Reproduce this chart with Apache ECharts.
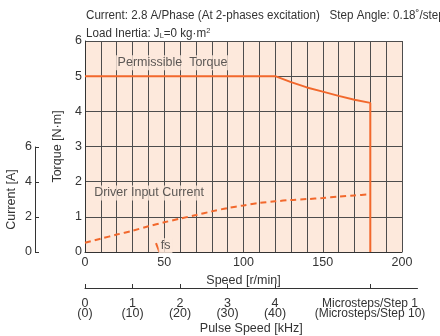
<!DOCTYPE html>
<html><head><meta charset="utf-8">
<script src="https://cdn.jsdelivr.net/npm/echarts@6/dist/echarts.min.js"></script>
<style>html,body{margin:0;padding:0;background:#fff}#c{width:440px;height:336px}</style>
</head><body><div id="c"></div>
<script>
// ---- data ----
const torqueSpeed  = [0, 120, 130, 140, 150, 160, 170, 180, 180];
const torqueValues = [5, 5, 4.83, 4.68, 4.56, 4.44, 4.33, 4.24, 0];
const currentSpeed  = [0, 10, 20, 30, 40, 50, 60, 70, 80, 90, 100, 110, 120, 130, 140, 150, 160, 170, 180];
const currentValues = [0.53, 0.76, 0.99, 1.21, 1.46, 1.69, 1.90, 2.10, 2.31, 2.50, 2.65, 2.79, 2.88, 2.96, 3.01, 3.07, 3.15, 3.22, 3.28];
const fsSpeed  = [44.8, 46.9];
const fsTorque = [0.25, 0];
const speedLabels  = [0, 50, 100, 150, 200];
const torqueTicks  = [0, 1, 2, 3, 4, 5, 6];
const currentTicks = [0, 2, 4, 6];
const pulseTicks   = [0, 1, 2, 3, 4, 6];
const pulseLabels  = ['0\n(0)', '1\n(10)', '2\n(20)', '3\n(30)', '4\n(40)', '{m|Microsteps/Step 1}\n{m|(Microsteps/Step 10)}'];
const annotations  = [
  {text: 'Permissible  Torque', speed: 55.2, torque: 5.38},
  {text: 'Driver Input Current', speed: 40.4, torque: 1.68},
  {text: 'fs', speed: 50.8, torque: 0.18}
];

const FONT = "'Liberation Sans',Arial,sans-serif";
const TXT = '#333';
const ORANGE = '#f2682c';
const BG = '#fde9dc';
const GRIDC = '#4d4d4d';

const chart = echarts.init(document.getElementById('c'), null, {renderer: 'canvas'});
chart.setOption({
  animation: false,
  textStyle: {fontFamily: FONT, color: TXT},
  graphic: [
    {type: 'text', x: 86, y: 9, scaleX: 0.93, style: {text: 'Current: 2.8 A/Phase (At 2-phases excitation)   Step Angle: 0.18˚/step', font: '12.5px ' + FONT, fill: TXT}},
    {type: 'text', x: 86, y: 27, scaleX: 0.93, style: {
      text: '{a|Load Inertia: J}{s|L}{a|=0 kg·m}{p|2}',
      rich: {
        a: {font: '12.5px ' + FONT, fill: TXT, verticalAlign: 'bottom'},
        s: {font: '8px ' + FONT, fill: TXT, verticalAlign: 'bottom'},
        p: {font: '8px ' + FONT, fill: TXT, verticalAlign: 'top'}
      }
    }}
  ],
  grid: [
    {left: 85, top: 41, width: 317, height: 211, show: true, backgroundColor: BG, borderWidth: 0, containLabel: false},
    {left: 35, top: 147, width: 1, height: 105, containLabel: false},
    {left: 85, top: 280, width: 332.5, height: 8, containLabel: false}
  ],
  xAxis: [
    {gridIndex: 0, type: 'value', min: 0, max: 200, interval: 10,
     axisLine: {show: true, lineStyle: {color: '#333', width: 1}},
     axisTick: {show: false},
     splitLine: {show: true, lineStyle: {color: GRIDC, width: 1}},
     axisLabel: {fontSize: 12.5, color: TXT, margin: 4, fontFamily: FONT,
       formatter: v => speedLabels.includes(v) ? String(v) : ''},
     name: 'Speed [r/min]', nameLocation: 'middle', nameGap: 17,
     nameTextStyle: {fontSize: 12.5, color: TXT, fontFamily: FONT}},
    {gridIndex: 1, type: 'value', show: false, min: 0, max: 1},
    {gridIndex: 2, type: 'value', min: 0, max: 7, position: 'bottom',
     axisLine: {show: true, lineStyle: {color: '#333', width: 1}},
     axisTick: {show: true, inside: true, length: 4, customValues: pulseTicks, lineStyle: {color: '#333'}},
     splitLine: {show: false},
     axisLabel: {customValues: pulseTicks, fontSize: 12.5, lineHeight: 10, color: TXT, margin: 11, fontFamily: FONT,
       rich: {m: {fontSize: 12, lineHeight: 10, color: TXT, fontFamily: FONT}},
       formatter: v => pulseLabels[pulseTicks.indexOf(v)] || ''},
     name: 'Pulse Speed [kHz]', nameLocation: 'middle', nameGap: 34,
     nameTextStyle: {fontSize: 12.5, color: TXT, fontFamily: FONT}}
  ],
  yAxis: [
    {gridIndex: 0, type: 'value', min: 0, max: 6, interval: 1,
     axisLine: {show: true, lineStyle: {color: '#333', width: 1}},
     axisTick: {show: false},
     splitLine: {show: true, lineStyle: {color: GRIDC, width: 1}},
     axisLabel: {fontSize: 12.5, color: TXT, margin: 3, fontFamily: FONT,
       formatter: v => torqueTicks.includes(v) ? String(v) : ''},
     name: 'Torque [N·m]', nameLocation: 'middle', nameGap: 17,
     nameTextStyle: {fontSize: 12.5, color: TXT, fontFamily: FONT}},
    {gridIndex: 0, type: 'value', min: 0, max: 12, show: false},
    {gridIndex: 1, type: 'value', min: 0, max: 6, interval: 2, position: 'left',
     axisLine: {show: true, lineStyle: {color: '#333', width: 1}},
     axisTick: {show: true, inside: true, length: 4, lineStyle: {color: '#333'}},
     splitLine: {show: false},
     axisLabel: {fontSize: 12.5, color: TXT, margin: 3, fontFamily: FONT,
       formatter: v => currentTicks.includes(v) ? String(v) : ''},
     name: 'Current [A]', nameLocation: 'middle', nameGap: 17,
     nameTextStyle: {fontSize: 12.5, color: TXT, fontFamily: FONT}},
    {gridIndex: 2, type: 'value', show: false, min: 0, max: 1}
  ],
  series: [
    {type: 'line', xAxisIndex: 0, yAxisIndex: 0, symbol: 'none', z: 5,
     lineStyle: {color: ORANGE, width: 2},
     data: torqueSpeed.map((s, i) => [s, torqueValues[i]])},
    {type: 'line', xAxisIndex: 0, yAxisIndex: 1, symbol: 'none', smooth: 0.3, z: 5,
     lineStyle: {color: ORANGE, width: 2, type: [6, 4]},
     data: currentSpeed.map((s, i) => [s, currentValues[i]])},
    {type: 'line', xAxisIndex: 0, yAxisIndex: 0, symbol: 'none', z: 5,
     lineStyle: {color: ORANGE, width: 2},
     data: fsSpeed.map((s, i) => [s, fsTorque[i]])},
    {type: 'scatter', xAxisIndex: 0, yAxisIndex: 0, symbolSize: 0, z: 6, silent: true,
     label: {show: true, position: 'inside', formatter: p => p.data.name,
       fontSize: 12.5, color: TXT, fontFamily: FONT, backgroundColor: BG, padding: [1, 2, 1, 2]},
     data: annotations.map(a => ({name: a.text, value: [a.speed, a.torque]}))}
  ]
});
</script></body></html>
